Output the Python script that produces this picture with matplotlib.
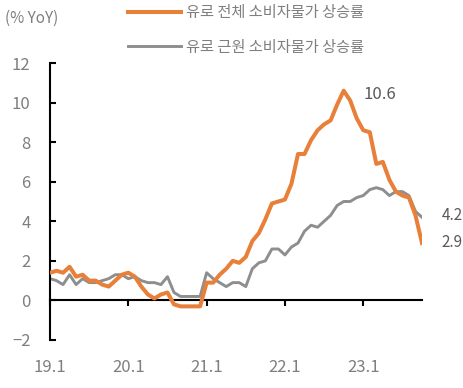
import numpy as np
import matplotlib
matplotlib.use('Agg')
import matplotlib.pyplot as plt

plt.rcParams['font.family'] = ['Noto Sans CJK KR', 'DejaVu Sans']
plt.rcParams['font.weight'] = 'light'

# 2019.1 ~ 2023.10 월별 (% YoY)
headline = [1.4, 1.5, 1.4, 1.7, 1.2, 1.3, 1.0, 1.0, 0.8, 0.7, 1.0, 1.3,
            1.4, 1.2, 0.7, 0.3, 0.1, 0.3, 0.4, -0.2, -0.3, -0.3, -0.3, -0.3,
            0.9, 0.9, 1.3, 1.6, 2.0, 1.9, 2.2, 3.0, 3.4, 4.1, 4.9, 5.0,
            5.1, 5.9, 7.4, 7.4, 8.1, 8.6, 8.9, 9.1, 9.9, 10.6, 10.1, 9.2,
            8.6, 8.5, 6.9, 7.0, 6.1, 5.5, 5.3, 5.2, 4.3, 2.9]
core = [1.1, 1.0, 0.8, 1.3, 0.8, 1.1, 0.9, 0.9, 1.0, 1.1, 1.3, 1.3,
        1.1, 1.2, 1.0, 0.9, 0.9, 0.8, 1.2, 0.4, 0.2, 0.2, 0.2, 0.2,
        1.4, 1.1, 0.9, 0.7, 0.9, 0.9, 0.7, 1.6, 1.9, 2.0, 2.6, 2.6,
        2.3, 2.7, 2.9, 3.5, 3.8, 3.7, 4.0, 4.3, 4.8, 5.0, 5.0, 5.2,
        5.3, 5.6, 5.7, 5.6, 5.3, 5.5, 5.5, 5.3, 4.5, 4.2]
xtick_labels = ['19.1', '20.1', '21.1', '22.1', '23.1']
label_head = '유로 전체 소비자물가 상승률'
label_core = '유로 근원 소비자물가 상승률'

orange = '#E8803A'
grey = '#8E8E8E'
txt = '#7F7F7F'

months = np.arange(len(headline))

fig = plt.figure(figsize=(4.64, 3.88), dpi=100)
ax = fig.add_axes([50/464, 1-340/388, (422-50)/464, (340-63)/388])

ax.plot(months, headline, color=orange, lw=2.9, label=label_head, zorder=3)
ax.plot(months, core, color=grey, lw=2.1, label=label_core, zorder=2)

ax.set_xlim(0, len(headline) - 1)
ax.set_ylim(-2, 12)
ax.set_yticks(np.arange(-2, 13, 2))
ax.set_xticks(np.arange(0, len(headline), 12))
ax.set_xticklabels(xtick_labels)

ax.spines['top'].set_visible(False)
ax.spines['right'].set_visible(False)
ax.spines['bottom'].set_position(('data', 0))
for s in ['left', 'bottom']:
    ax.spines[s].set_linewidth(1.5)

ax.tick_params(axis='y', direction='in', length=4, width=1.5, pad=14,
               labelsize=12, labelcolor=txt)
ax.tick_params(axis='x', direction='out', length=4, width=1.5, pad=38,
               labelsize=12, labelcolor=txt)

# 값 표시
ax.annotate(f'{headline[45]}', (45, headline[45]), xytext=(14, -3),
            textcoords='offset points', fontsize=12, color='#595959',
            va='center', ha='left')
ax.annotate(f'{core[-1]}', (months[-1], core[-1]), xytext=(14, 1.5),
            textcoords='offset points', fontsize=11, color='#595959',
            va='center', ha='left')
ax.annotate(f'{headline[-1]}', (months[-1], headline[-1]), xytext=(14, 0.5),
            textcoords='offset points', fontsize=11, color='#595959',
            va='center', ha='left')

fig.text(5/464, 1-18/388, '(% YoY)', fontsize=11, color=txt, va='center', ha='left')

leg = fig.legend(loc='upper left', bbox_to_anchor=(128/464, 1-4/388), frameon=False,
                 fontsize=11, handlelength=3.5, handletextpad=0.3,
                 labelspacing=1.15, borderpad=0, borderaxespad=0)
for t in leg.get_texts():
    t.set_color(txt)

fig.savefig('out.png', dpi=100)
